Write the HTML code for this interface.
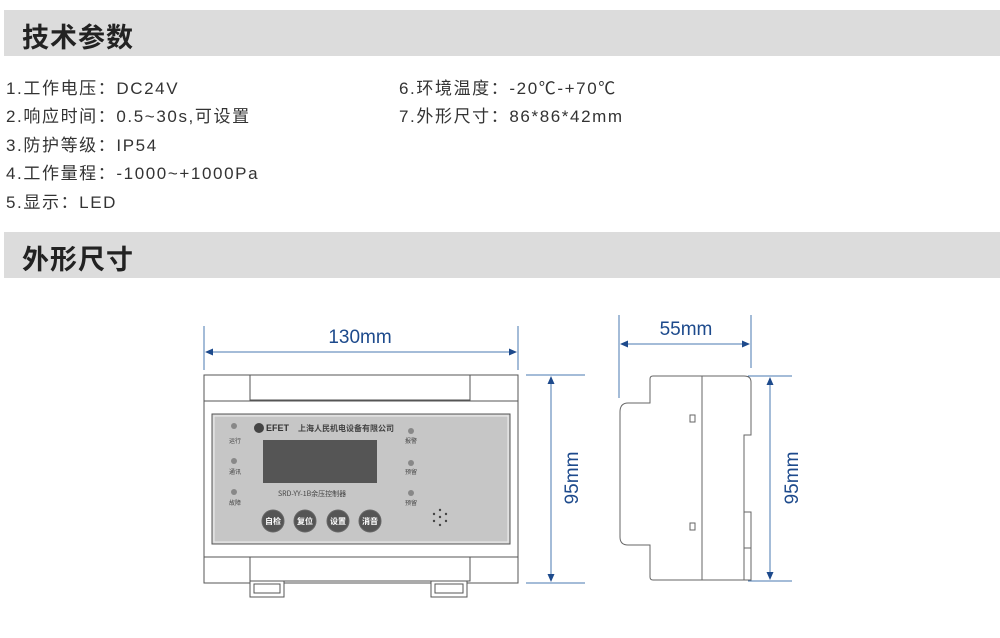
<!DOCTYPE html>
<html><head><meta charset="utf-8"><style>
body{margin:0;width:1000px;height:638px;background:#fff;position:relative;overflow:hidden;font-family:"Liberation Sans","Noto Sans CJK SC",sans-serif;}
.bar{position:absolute;left:4px;width:996px;height:46px;background:#dcdcdc;}
.bar span{position:absolute;left:18px;top:6px;font-size:27px;letter-spacing:1px;font-weight:bold;color:#222;font-family:"Noto Sans CJK SC",sans-serif;}
.t{position:absolute;font-size:17px;letter-spacing:1.6px;color:#333;white-space:nowrap;font-family:"Liberation Sans","Noto Sans CJK SC",sans-serif;}
</style></head><body>
<div class="bar" style="top:10px"><span>技术参数</span></div>
<div class="bar" style="top:232px"><span>外形尺寸</span></div>
<div class="t" style="left:6px;top:74px">1.工作电压：DC24V</div>
<div class="t" style="left:6px;top:102px">2.响应时间：0.5~30s,可设置</div>
<div class="t" style="left:6px;top:131px">3.防护等级：IP54</div>
<div class="t" style="left:6px;top:159px">4.工作量程：-1000~+1000Pa</div>
<div class="t" style="left:6px;top:188px">5.显示：LED</div>
<div class="t" style="left:399px;top:74px">6.环境温度：-20℃-+70℃</div>
<div class="t" style="left:399px;top:102px">7.外形尺寸：86*86*42mm</div>
<svg width="1000" height="638" style="position:absolute;left:0;top:0" font-family="Liberation Sans, Noto Sans CJK SC, sans-serif">
<defs><marker id="a" markerWidth="8" markerHeight="8" refX="7" refY="4" orient="auto-start-reverse" markerUnits="userSpaceOnUse"><path d="M0,0.5 L8,4 L0,7.5Z" fill="#1d4a8c"/></marker></defs>
<g stroke="#4a78b0" stroke-width="1" fill="none">
<line x1="204" y1="326" x2="204" y2="370"/><line x1="518" y1="326" x2="518" y2="370"/>
<line x1="206" y1="352" x2="516" y2="352" marker-start="url(#a)" marker-end="url(#a)"/>
<line x1="526" y1="375" x2="585" y2="375"/><line x1="526" y1="583" x2="585" y2="583"/>
<line x1="551" y1="377" x2="551" y2="581" marker-start="url(#a)" marker-end="url(#a)"/>
<line x1="619" y1="315" x2="619" y2="398"/><line x1="751" y1="315" x2="751" y2="368"/>
<line x1="621" y1="344" x2="749" y2="344" marker-start="url(#a)" marker-end="url(#a)"/>
<line x1="748" y1="376" x2="792" y2="376"/><line x1="748" y1="581" x2="792" y2="581"/>
<line x1="770" y1="378" x2="770" y2="579" marker-start="url(#a)" marker-end="url(#a)"/>
</g>
<g fill="#1d4a8c" font-size="19">
<text x="360" y="343" text-anchor="middle">130mm</text>
<text x="686" y="335" text-anchor="middle">55mm</text>
<text transform="translate(578,478) rotate(-90)" text-anchor="middle">95mm</text>
<text transform="translate(798,478) rotate(-90)" text-anchor="middle">95mm</text>
</g>
<g stroke="#555" stroke-width="1" fill="#fff">
<rect x="204" y="375" width="314" height="208"/>
<rect x="250" y="375" width="220" height="25"/>
<line x1="204" y1="401" x2="518" y2="401"/>
<line x1="204" y1="557" x2="518" y2="557"/>
<rect x="250" y="557" width="220" height="24"/>
<rect x="212" y="414" width="298" height="130" fill="#d3d3d3"/>
<rect x="214" y="416" width="294" height="126" fill="#c6c6c6" stroke="#eee"/>
<rect x="250" y="581" width="34" height="16"/><rect x="254" y="584" width="26" height="9"/>
<rect x="431" y="581" width="36" height="16"/><rect x="435" y="584" width="28" height="9"/>
</g>
<rect x="263" y="440" width="114" height="43" fill="#555"/>
<g fill="#888"><circle cx="234" cy="426" r="3"/><circle cx="234" cy="461" r="3"/><circle cx="234" cy="492" r="3"/>
<circle cx="411" cy="431" r="3"/><circle cx="411" cy="463" r="3"/><circle cx="411" cy="493" r="3"/></g>
<g fill="#444" font-size="6" font-family="Noto Sans CJK SC,sans-serif">
<text x="229" y="443">运行</text><text x="229" y="474">通讯</text><text x="229" y="505">故障</text>
<text x="405" y="443">报警</text><text x="405" y="474">预留</text><text x="405" y="505">预留</text>
<text x="298" y="431" font-size="8" font-weight="bold">上海人民机电设备有限公司</text>
<text x="278" y="496" font-size="7">SRD-YY-1B余压控制器</text>
</g>
<circle cx="259" cy="428" r="5" fill="#444"/>
<text x="266" y="431" font-size="9" font-weight="bold" fill="#333">EFET</text>
<g fill="#444"><circle cx="440" cy="510" r="1.2"/><circle cx="434" cy="514" r="1.2"/><circle cx="446" cy="514" r="1.2"/><circle cx="440" cy="517" r="1.2"/><circle cx="434" cy="521" r="1.2"/><circle cx="446" cy="521" r="1.2"/><circle cx="440" cy="525" r="1.2"/></g>
<g stroke="#666" fill="#555">
<circle cx="273" cy="521" r="11"/><circle cx="305" cy="521" r="11"/><circle cx="338" cy="521" r="11"/><circle cx="370" cy="521" r="11"/></g>
<g fill="#fff" font-size="8" font-weight="bold" text-anchor="middle" font-family="Noto Sans CJK SC,sans-serif">
<text x="273" y="524">自检</text><text x="305" y="524">复位</text><text x="338" y="524">设置</text><text x="370" y="524">消音</text></g>
<g stroke="#666" stroke-width="1" fill="#fff">
<path d="M653,376 L744,376 Q751,376 751,382 L751,435 L744,435 L744,512 L751,512 L751,580 L653,580 Q650,580 650,577 L650,545 L628,545 Q620,545 620,537 L620,412 Q620,403 628,403 L650,403 L650,379 Q650,376 653,376Z"/>
<line x1="702" y1="376" x2="702" y2="580"/>
<rect x="744" y="512" width="7" height="36"/><rect x="744" y="548" width="7" height="32"/>
<rect x="690" y="415" width="5" height="7"/><rect x="690" y="523" width="5" height="7"/>
</g>
</svg>
</body></html>
